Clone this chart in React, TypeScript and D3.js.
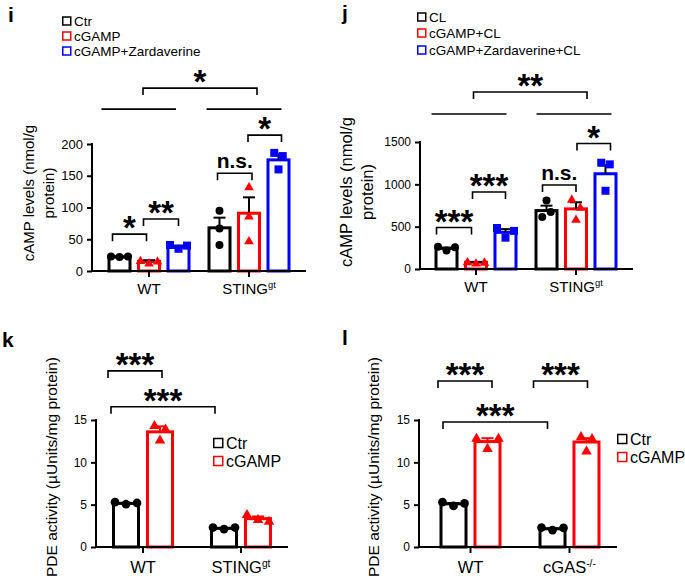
import { useEffect, useRef } from "react";
import * as d3 from "d3";

const FONT = "'Liberation Sans', Arial, Helvetica, sans-serif";
const BLACK = "#000000";
const RED = "#ff0000";
const BLUE = "#0000ff";

// ---- panel i : cAMP, STING ----
const groupsI = ["WT", "STING"];
const groupLabelsI: [string, string][] = [["WT", ""], ["STING", "gt"]];
const seriesI = ["Ctr", "cGAMP", "cGAMP+Zardaverine"];
const meansI = [[22, 15, 37], [68, 91, 175]];
const semI = [[1, 2, 3], [16, 25, 9]];
const pointsI = [
  [[23, 22, 23], [17, 13, 16], [41, 35, 40]],
  [[95, 67, 41], [133, 87, 48], [186, 181, 160]],
];
const ticksI = [0, 50, 100, 150, 200];

// ---- panel j : cAMP + CL ----
const groupsJ = ["WT", "STING"];
const groupLabelsJ: [string, string][] = [["WT", ""], ["STING", "gt"]];
const seriesJ = ["CL", "cGAMP+CL", "cGAMP+Zardaverine+CL"];
const meansJ = [[244, 79, 433], [690, 710, 1125]];
const semJ = [[8, 4, 38], [58, 78, 100]];
const pointsJ = [
  [[263, 218, 256], [88, 74, 84], [484, 370, 450]],
  [[808, 614, 673], [826, 732, 590], [1255, 1236, 924]],
];
const ticksJ = [0, 500, 1000, 1500];

// ---- panel k : PDE, STING ----
const groupsK = ["WT", "STING"];
const groupLabelsK: [string, string][] = [["WT", ""], ["STING", "gt"]];
const seriesK = ["Ctr", "cGAMP"];
const meansK = [[5.15, 13.6], [2.2, 3.35]];
const semK = [[0.06, 0.65], [0.06, 0.25]];
const pointsK = [
  [[5.3, 5.05, 5.2], [14.4, 14.0, 12.7]],
  [[2.3, 2.12, 2.3], [3.9, 3.3, 3.1]],
];
const ticksK = [0, 5, 10, 15];

// ---- panel l : PDE, cGAS ----
const groupsL = ["WT", "cGAS"];
const groupLabelsL: [string, string][] = [["WT", ""], ["cGAS", "-/-"]];
const seriesL = ["Ctr", "cGAMP"];
const meansL = [[5.1, 12.45], [2.15, 12.4]];
const semL = [[0.1, 0.4], [0.06, 0.45]];
const pointsL = [
  [[5.3, 4.85, 5.15], [12.9, 11.7, 12.9]],
  [[2.3, 2.0, 2.25], [13.1, 12.85, 11.4]],
];
const ticksL = [0, 5, 10, 15];

const colors3 = [BLACK, RED, BLUE];
const shapes3 = [d3.symbolCircle, d3.symbolTriangle, d3.symbolSquare];

type Ref = [number, number];
interface Bracket { a: Ref; b: Ref; y: number; label: string; da: number; db: number }
interface GroupLine { g: number; y: number; da: number; db: number }

const bracketsI: Bracket[] = [
  { a: [0, 0], b: [0, 1], y: 58, label: "*", da: -7, db: -2.5 },
  { a: [0, 1], b: [0, 2], y: 82, label: "**", da: -5.5, db: 0 },
  { a: [1, 0], b: [1, 1], y: 154, label: "n.s.", da: -2, db: 3 },
  { a: [1, 1], b: [1, 2], y: 214, label: "*", da: -1, db: 3 },
  { a: [0, 1], b: [1, 1], y: 288, label: "*", da: -6, db: 8 },
];
const groupLinesI: GroupLine[] = [
  { g: 0, y: 255, da: -18, db: -2.5 },
  { g: 1, y: 255, da: -13, db: 3 },
];
const bracketsJ: Bracket[] = [
  { a: [0, 0], b: [0, 1], y: 490, label: "***", da: -10, db: -4.5 },
  { a: [0, 1], b: [0, 2], y: 909, label: "***", da: -3.5, db: 0 },
  { a: [1, 0], b: [1, 1], y: 992, label: "n.s.", da: -4, db: 0 },
  { a: [1, 1], b: [1, 2], y: 1482, label: "*", da: 1, db: 5 },
  { a: [0, 1], b: [1, 1], y: 2090, label: "**", da: -2.5, db: 11 },
];
const groupLinesJ: GroupLine[] = [
  { g: 0, y: 1830, da: -15, db: 1 },
  { g: 1, y: 1830, da: -10, db: 6 },
];
const bracketsK: Bracket[] = [
  { a: [0, 0], b: [0, 1], y: 20.8, label: "***", da: -18, db: 2 },
  { a: [0, 0], b: [1, 0], y: 16.56, label: "***", da: -15, db: -9 },
];
const bracketsL: Bracket[] = [
  { a: [0, 0], b: [0, 1], y: 19.6, label: "***", da: -15.5, db: 4.5 },
  { a: [1, 0], b: [1, 1], y: 19.6, label: "***", da: -19, db: 1 },
  { a: [0, 0], b: [1, 0], y: 14.76, label: "***", da: -10.5, db: -5 },
];

interface Panel {
  tag: string; tagPos: [number, number];
  groups: string[]; groupLabels: [string, string][]; series: string[];
  colors: string[]; shapes: d3.SymbolType[];
  means: number[][]; sem: number[][]; points: number[][][]; ticks: number[];
  brackets: Bracket[]; groupLines: GroupLine[];
  yLabel: string[]; yLabelX: number[]; yLabelY: number; yLabelSize: number;
  yZero: number; yTop: number; yMax: number;
  axisX: number; axisEnd: number; groupRange: [number, number];
  innerHalf: number; innerPad: number;
  tickFont: number; groupFont: number; groupBase: number;
  errColored: boolean; symSize: number[]; step: number; clusterGap: number;
  legendX: number; legendY: number[]; legendFont: number; legendBox: number;
}

const panels: Panel[] = [
  {
    tag: "i", tagPos: [8, 22],
    groups: groupsI, groupLabels: groupLabelsI, series: seriesI, colors: colors3, shapes: shapes3,
    means: meansI, sem: semI, points: pointsI, ticks: ticksI,
    brackets: bracketsI, groupLines: groupLinesI,
    yLabel: ["cAMP levels (nmol/g", "protein)"], yLabelX: [34, 54], yLabelY: 193, yLabelSize: 15,
    yZero: 271, yTop: 144, yMax: 200,
    axisX: 92, axisEnd: 306, groupRange: [99, 299], innerHalf: 41.5, innerPad: 0.186,
    tickFont: 13, groupFont: 15, groupBase: 294,
    errColored: false, symSize: [50, 40, 64], step: 8.5, clusterGap: 9,
    legendX: 62, legendY: [21, 36, 51], legendFont: 13.5, legendBox: 8,
  },
  {
    tag: "j", tagPos: [342, 20],
    groups: groupsJ, groupLabels: groupLabelsJ, series: seriesJ, colors: colors3, shapes: shapes3,
    means: meansJ, sem: semJ, points: pointsJ, ticks: ticksJ,
    brackets: bracketsJ, groupLines: groupLinesJ,
    yLabel: ["cAMP levels (nmol/g", "protein)"], yLabelX: [352, 373], yLabelY: 192, yLabelSize: 16.5,
    yZero: 269, yTop: 142, yMax: 1500,
    axisX: 420, axisEnd: 633, groupRange: [426, 626], innerHalf: 41.5, innerPad: 0.186,
    tickFont: 12, groupFont: 15, groupBase: 292,
    errColored: false, symSize: [50, 40, 64], step: 8.5, clusterGap: 9,
    legendX: 417, legendY: [17, 33, 50], legendFont: 13.5, legendBox: 8,
  },
  {
    tag: "k", tagPos: [2, 347],
    groups: groupsK, groupLabels: groupLabelsK, series: seriesK, colors: colors3, shapes: shapes3,
    means: meansK, sem: semK, points: pointsK, ticks: ticksK,
    brackets: bracketsK, groupLines: [],
    yLabel: ["PDE activity (µUnits/mg protein)"], yLabelX: [57], yLabelY: 467, yLabelSize: 15.5,
    yZero: 547, yTop: 420, yMax: 15,
    axisX: 96, axisEnd: 288, groupRange: [94, 290], innerHalf: 31, innerPad: 0.176,
    tickFont: 12, groupFont: 16.5, groupBase: 573,
    errColored: true, symSize: [60, 48, 64], step: 11, clusterGap: 11,
    legendX: 213, legendY: [443, 461], legendFont: 16, legendBox: 9,
  },
  {
    tag: "l", tagPos: [342, 345],
    groups: groupsL, groupLabels: groupLabelsL, series: seriesL, colors: colors3, shapes: shapes3,
    means: meansL, sem: semL, points: pointsL, ticks: ticksL,
    brackets: bracketsL, groupLines: [],
    yLabel: ["PDE activity (µUnits/mg protein)"], yLabelX: [379], yLabelY: 467, yLabelSize: 15.5,
    yZero: 547, yTop: 420, yMax: 15,
    axisX: 419, axisEnd: 617, groupRange: [421, 619], innerHalf: 31, innerPad: 0.176,
    tickFont: 12, groupFont: 16.5, groupBase: 573,
    errColored: true, symSize: [60, 48, 64], step: 11, clusterGap: 11,
    legendX: 617, legendY: [439, 457], legendFont: 16, legendBox: 9,
  },
];

// spread overlapping points sideways, Prism style
function spread(vals: number[], y: d3.ScaleLinear<number, number>, gap: number, step: number): number[] {
  const idx = vals.map((_, i) => i).sort((a, b) => y(vals[a]) - y(vals[b]));
  const out = vals.map(() => 0);
  let cluster: number[] = [idx[0]];
  const flush = () => {
    const c = [...cluster].sort((a, b) => a - b);
    c.forEach((k, i) => { out[k] = (i - (c.length - 1) / 2) * step; });
  };
  for (let i = 1; i < idx.length; i++) {
    if (Math.abs(y(vals[idx[i]]) - y(vals[idx[i - 1]])) < gap) cluster.push(idx[i]);
    else { flush(); cluster = [idx[i]]; }
  }
  flush();
  return out;
}

function drawPanel(root: d3.Selection<SVGGElement, unknown, null, undefined>, p: Panel) {
  const y = d3.scaleLinear().domain([0, p.yMax]).range([p.yZero, p.yTop]);
  const x0 = d3.scaleBand<string>().domain(p.groups).range(p.groupRange).padding(0);
  const x1 = d3.scaleBand<string>().domain(p.series).range([-p.innerHalf, p.innerHalf]).paddingInner(p.innerPad);
  const gc = (gi: number) => (x0(p.groups[gi]) ?? 0) + x0.bandwidth() / 2;
  const cx = (gi: number, si: number) => gc(gi) + (x1(p.series[si]) ?? 0) + x1.bandwidth() / 2;
  const bw = x1.bandwidth();
  const sw = 3;

  const g = root.append("g").attr("font-family", FONT);

  // panel tag
  g.append("text").attr("x", p.tagPos[0]).attr("y", p.tagPos[1])
    .attr("font-size", 21).attr("font-weight", "bold").text(p.tag);

  // bars
  p.groups.forEach((_, gi) => {
    p.series.forEach((_, si) => {
      const c = cx(gi, si);
      const m = p.means[gi][si];
      g.append("rect")
        .attr("x", c - bw / 2 + sw / 2).attr("width", bw - sw)
        .attr("y", y(m)).attr("height", y(0) - y(m))
        .attr("fill", "#fff").attr("stroke", p.colors[si]).attr("stroke-width", sw);
    });
  });

  // error bars (upper SEM only)
  p.groups.forEach((_, gi) => {
    p.series.forEach((_, si) => {
      const c = cx(gi, si);
      const m = p.means[gi][si];
      const top = y(m + p.sem[gi][si]);
      const col = p.errColored ? p.colors[si] : BLACK;
      g.append("line").attr("x1", c).attr("x2", c).attr("y1", y(m)).attr("y2", top)
        .attr("stroke", col).attr("stroke-width", 2);
      g.append("line").attr("x1", c - 6).attr("x2", c + 6).attr("y1", top).attr("y2", top)
        .attr("stroke", col).attr("stroke-width", 2);
    });
  });

  // points
  p.groups.forEach((_, gi) => {
    p.series.forEach((_, si) => {
      const vals = p.points[gi][si];
      const offs = spread(vals, y, p.clusterGap, p.step);
      const sym = d3.symbol().type(p.shapes[si]).size(p.symSize[si]);
      vals.forEach((v, k) => {
        const dy = p.shapes[si] === d3.symbolTriangle ? 1 : 0;
        g.append("path").attr("d", sym() ?? "")
          .attr("transform", `translate(${cx(gi, si) + offs[k]},${y(v) + dy})`)
          .attr("fill", p.colors[si]);
      });
    });
  });

  // y axis
  const ya = g.append("g").attr("transform", `translate(${p.axisX},0)`)
    .call(d3.axisLeft(y).tickValues(p.ticks).tickFormat(d3.format("d")).tickSize(5).tickPadding(4).tickSizeOuter(0));
  ya.select(".domain").remove();
  ya.selectAll(".tick line").attr("stroke-width", 2);
  ya.selectAll("text").attr("font-size", p.tickFont).attr("font-family", FONT).attr("fill", BLACK);
  g.append("line").attr("x1", p.axisX).attr("x2", p.axisX).attr("y1", y(0) + 1).attr("y2", y(p.yMax) - 1)
    .attr("stroke", BLACK).attr("stroke-width", 2);

  // x axis
  g.append("line").attr("x1", p.axisX - 1).attr("x2", p.axisEnd).attr("y1", y(0)).attr("y2", y(0))
    .attr("stroke", BLACK).attr("stroke-width", 2);
  p.groups.forEach((_, gi) => {
    g.append("line").attr("x1", gc(gi)).attr("x2", gc(gi)).attr("y1", y(0)).attr("y2", y(0) + 6)
      .attr("stroke", BLACK).attr("stroke-width", 2);
    const t = g.append("text").attr("x", gc(gi)).attr("y", p.groupBase)
      .attr("text-anchor", "middle").attr("font-size", p.groupFont);
    t.append("tspan").text(p.groupLabels[gi][0]);
    if (p.groupLabels[gi][1]) {
      t.append("tspan").attr("font-size", p.groupFont * 0.62).attr("dy", -p.groupFont * 0.38)
        .text(p.groupLabels[gi][1]);
    }
  });

  // y label
  p.yLabel.forEach((line, i) => {
    g.append("text")
      .attr("transform", `translate(${p.yLabelX[i]},${p.yLabelY}) rotate(-90)`)
      .attr("text-anchor", "middle").attr("font-size", p.yLabelSize).text(line);
  });

  // significance brackets
  const leg = 7;
  p.brackets.forEach((b) => {
    const xa = cx(b.a[0], b.a[1]) + b.da;
    const xb = cx(b.b[0], b.b[1]) + b.db;
    const by = y(b.y);
    g.append("path")
      .attr("d", `M${xa},${by + leg}V${by}H${xb}V${by + leg}`)
      .attr("fill", "none").attr("stroke", BLACK).attr("stroke-width", 1.6);
    const isNs = b.label === "n.s.";
    g.append("text").attr("x", (xa + xb) / 2).attr("y", isNs ? by - 5 : by + 5)
      .attr("text-anchor", "middle").attr("font-weight", "bold")
      .attr("font-size", isNs ? 21 : 33).text(b.label);
  });
  p.groupLines.forEach((l) => {
    g.append("line")
      .attr("x1", cx(l.g, 0) + l.da).attr("x2", cx(l.g, p.series.length - 1) + l.db)
      .attr("y1", y(l.y)).attr("y2", y(l.y))
      .attr("stroke", BLACK).attr("stroke-width", 1.6);
  });

  // legend
  p.series.forEach((s, si) => {
    const ly = p.legendY[si];
    const bx = p.legendBox;
    g.append("rect").attr("x", p.legendX + 0.75).attr("y", ly - bx / 2)
      .attr("width", bx).attr("height", bx)
      .attr("fill", "#fff").attr("stroke", p.colors[si]).attr("stroke-width", 1.5);
    g.append("text").attr("x", p.legendX + bx + 4).attr("y", ly)
      .attr("dy", "0.36em").attr("font-size", p.legendFont).text(s);
  });
}

export default function App() {
  const ref = useRef<SVGSVGElement>(null);
  useEffect(() => {
    const svg = d3.select(ref.current);
    svg.selectAll("*").remove();
    svg.append("rect").attr("width", 685).attr("height", 585).attr("fill", "#fff");
    const root = svg.append("g") as unknown as d3.Selection<SVGGElement, unknown, null, undefined>;
    panels.forEach((p) => drawPanel(root, p));
  }, []);
  return (
    <svg ref={ref} width={685} height={585}
      style={{ position: "absolute", left: 0, top: 0, display: "block" }} />
  );
}
